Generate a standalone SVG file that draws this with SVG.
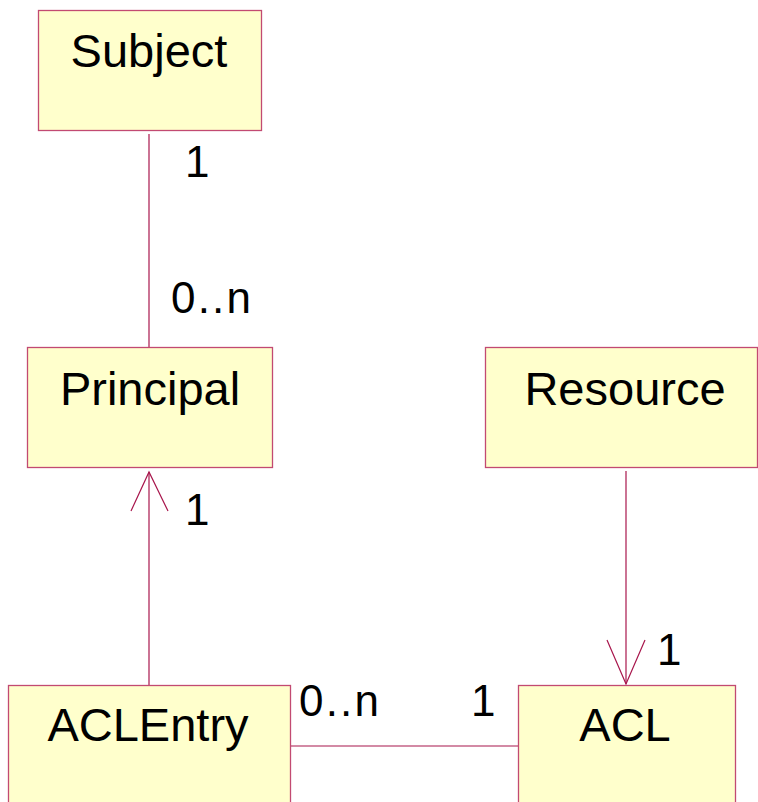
<svg xmlns="http://www.w3.org/2000/svg" width="758" height="802" viewBox="0 0 758 802">
  <style>
    .box { fill: #ffffcc; stroke: #c24a72; stroke-width: 1.3; }
    .name { font-family: "Liberation Sans", Arial, sans-serif; font-size: 47px; fill: #000; text-anchor: middle; }
    .mult { font-family: "Liberation Sans", Arial, sans-serif; font-size: 44px; fill: #000; }
    .link { stroke: #a8164c; stroke-width: 1.2; fill: none; }
  </style>
  <rect width="758" height="802" fill="#ffffff"/>

  <g id="connectors">
    <!-- Subject to Principal -->
    <line class="link" x1="149" y1="134" x2="149" y2="347"/>
    <!-- ACLEntry to Principal, open arrow -->
    <line class="link" x1="149" y1="472" x2="149" y2="685"/>
    <polyline class="link" points="131,511 149,472 168,511"/>
    <!-- Resource to ACL, open arrow -->
    <line class="link" x1="626" y1="471" x2="626" y2="684"/>
    <polyline class="link" points="607,640 626,684 645,640"/>
    <!-- ACLEntry to ACL -->
    <line class="link" x1="290" y1="746" x2="518" y2="746"/>
  </g>

  <g id="labels">
    <text class="mult" x="185" y="177">1</text>
    <text class="mult" x="171" y="313" textLength="80">0..n</text>
    <text class="mult" x="185" y="525">1</text>
    <text class="mult" x="657" y="665">1</text>
    <text class="mult" x="299" y="716" textLength="80">0..n</text>
    <text class="mult" x="471" y="716">1</text>
  </g>

  <g id="subject">
    <rect class="box" x="38.5" y="10.5" width="223" height="120"/>
    <text class="name" x="149" y="67">Subject</text>
  </g>

  <g id="principal">
    <rect class="box" x="27.5" y="347.5" width="245" height="120"/>
    <text class="name" x="150" y="405">Principal</text>
  </g>

  <g id="resource">
    <rect class="box" x="485.5" y="347.5" width="272" height="120"/>
    <text class="name" x="625" y="405">Resource</text>
  </g>

  <g id="aclentry">
    <rect class="box" x="8.5" y="685.5" width="282" height="130"/>
    <text class="name" x="148" y="741">ACLEntry</text>
  </g>

  <g id="acl">
    <rect class="box" x="518.5" y="685.5" width="217" height="130"/>
    <text class="name" x="625" y="741">ACL</text>
  </g>
</svg>
